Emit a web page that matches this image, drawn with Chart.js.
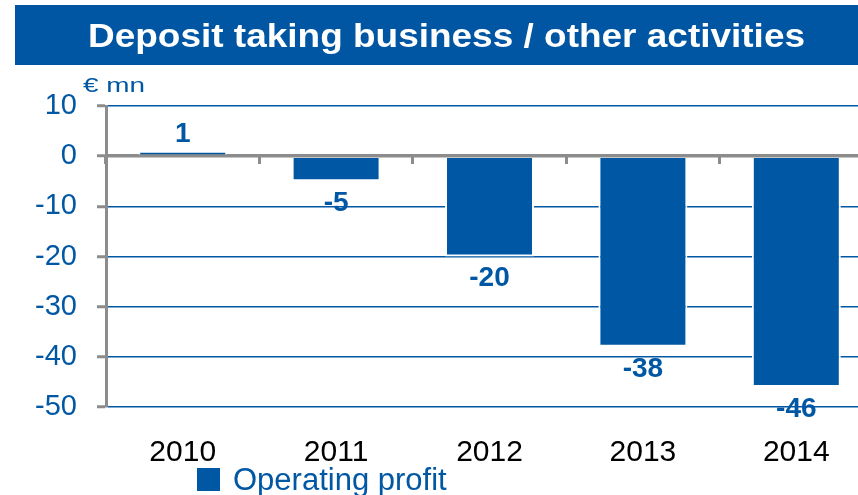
<!DOCTYPE html>
<html>
<head>
<meta charset="utf-8">
<script src="https://cdn.jsdelivr.net/npm/chart.js@4/dist/chart.umd.min.js"></script>
<style>
  html, body { margin: 0; padding: 0; background: #fff; overflow: hidden; }
  .chart-container { width: 858px; height: 495px; overflow: hidden; }
</style>
</head>
<body>
<div class="chart-container">
  <canvas id="profitChart" width="873" height="495"></canvas>
</div>
<script>
const years = ["2010", "2011", "2012", "2013", "2014"];
const operatingProfit = [1, -5, -20, -38, -46];
const yTicks = [10, 0, -10, -20, -30, -40, -50];

const BLUE = "#0057a3";
const GREY = "#8c8c8c";
const FONT = "'Liberation Sans', Arial, sans-serif";

// header band, unit label, value labels and legend
const decorations = {
    id: "decorations",
    afterDatasetsDraw(chart) {
        const ctx = chart.ctx;
        const W = chart.width;
        ctx.save();

        ctx.fillStyle = "#0056a2";
        ctx.fillRect(15, 5, W - 15, 60);

        const title = "Deposit taking business / other activities";
        ctx.font = "bold 33px " + FONT;
        ctx.fillStyle = "#fff";
        ctx.textBaseline = "alphabetic";
        let tw = ctx.measureText(title).width;
        let sx = 717 / tw;
        ctx.save();
        ctx.translate(88, 47);
        ctx.scale(sx, 1);
        ctx.textAlign = "left";
        ctx.fillText(title, 0, 0);
        ctx.restore();

        ctx.font = "21px " + FONT;
        ctx.fillStyle = BLUE;
        tw = ctx.measureText("€ mn").width;
        ctx.save();
        ctx.translate(83, 92);
        ctx.scale(62 / tw, 1);
        ctx.fillText("€ mn", 0, 0);
        ctx.restore();

        // value labels at the end of each bar
        const meta = chart.getDatasetMeta(0);
        ctx.font = "bold 28px " + FONT;
        ctx.textAlign = "center";
        ctx.textBaseline = "middle";
        ctx.fillStyle = BLUE;
        meta.data.forEach((bar, i) => {
            const v = operatingProfit[i];
            const y = v >= 0 ? bar.y - 17 : bar.y + 22;
            ctx.fillText(String(v), bar.x, y);
        });

        // legend
        const ds = chart.data.datasets[0];
        ctx.fillStyle = ds.backgroundColor;
        ctx.fillRect(197, 468, 23, 23);
        ctx.font = "31px " + FONT;
        ctx.textAlign = "left";
        ctx.textBaseline = "alphabetic";
        ctx.fillText(ds.label, 233, 490);

        ctx.restore();
    }
};

const ctx = document.getElementById("profitChart").getContext("2d");
new Chart(ctx, {
    type: "bar",
    data: {
        labels: years,
        datasets: [{
            label: "Operating profit",
            data: operatingProfit,
            backgroundColor: BLUE,
            borderColor: "#ffffff",
            borderWidth: 2,
            categoryPercentage: 1,
            barPercentage: 0.58,
        }],
    },
    options: {
        responsive: false,
        animation: false,
        layout: { padding: { top: 106, left: 0, right: 0, bottom: 0 } },
        plugins: {
            legend: { display: false },
            tooltip: { enabled: false },
        },
        scales: {
            x: {
                grid: { display: false },
                border: { display: false },
                ticks: {
                    color: "#000",
                    font: { family: FONT, size: 30 },
                    padding: 20,
                    maxRotation: 0,
                },
                afterFit(scale) { scale.height = 88; },
            },
            x2: {
                type: "category",
                labels: years,
                position: { y: 0 },
                offset: true,
                grid: {
                    offset: true,
                    drawOnChartArea: false,
                    tickLength: 8,
                    tickColor: GREY,
                    tickWidth: 3,
                },
                border: { display: false },
                ticks: { display: false },
            },
            y: {
                min: -50,
                max: 10,
                afterBuildTicks(scale) {
                    scale.ticks = yTicks.map(v => ({ value: v }));
                },
                grid: {
                    color: c => (c.tick && c.tick.value === 0 ? GREY : BLUE),
                    lineWidth: c => (c.tick && c.tick.value === 0 ? 3.5 : 1.5),
                    tickColor: GREY,
                    tickWidth: 3,
                    tickLength: 9,
                },
                border: { color: GREY, width: 3 },
                ticks: {
                    color: BLUE,
                    font: { family: FONT, size: 29 },
                    padding: 20,
                },
                afterFit(scale) { scale.width = 106; },
            },
        },
    },
    plugins: [decorations],
});
</script>
</body>
</html>
